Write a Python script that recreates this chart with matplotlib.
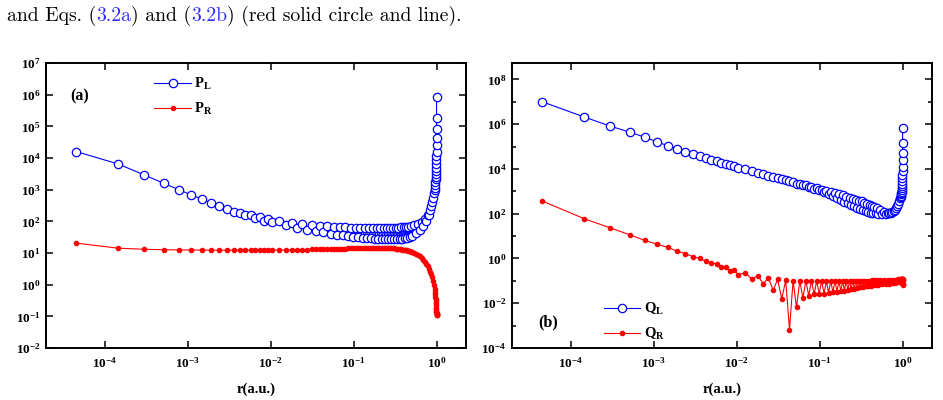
import matplotlib
matplotlib.use('Agg')
import matplotlib.pyplot as plt
import numpy as np
from matplotlib.ticker import FixedLocator, FuncFormatter, NullLocator, NullFormatter

plt.rcParams['font.family'] = 'Liberation Serif'
plt.rcParams['font.weight'] = 'bold'
plt.rcParams['mathtext.fontset'] = 'custom'
plt.rcParams['mathtext.rm'] = 'Liberation Serif:bold'
plt.rcParams['mathtext.bf'] = 'Liberation Serif:bold'
plt.rcParams['mathtext.it'] = 'Liberation Serif:bold'

# radial grid (a.u.), shared by all four curves
r_au = [4.5e-5, 1.44e-4, 3.0e-4, 5.1e-4, 7.8e-4, 1.10e-3, 1.48e-3, 1.92e-3, 2.41e-3, 2.96e-3,
        3.56e-3, 4.23e-3, 4.94e-3, 5.72e-3, 6.54e-3, 7.43e-3, 8.37e-3, 9.37e-3,
        0.0104, 0.0127, 0.0152, 0.0179, 0.0209, 0.0241, 0.0275, 0.0311, 0.0349, 0.0390,
        0.0433, 0.0478, 0.0526, 0.0576, 0.0628, 0.0682, 0.0738, 0.0797, 0.0858, 0.0921, 0.0987,
        0.1057, 0.1130, 0.1205, 0.1282, 0.1362, 0.1445, 0.1530, 0.1617, 0.1707, 0.1799,
        0.1893, 0.1990, 0.2089, 0.2191, 0.2295, 0.2402, 0.2511, 0.2622, 0.2736, 0.2853,
        0.2971, 0.3092, 0.3216, 0.3342, 0.3470, 0.3601, 0.3734, 0.3870, 0.4008, 0.4149,
        0.4292, 0.4437, 0.4585, 0.4735, 0.4887,
        0.51, 0.54, 0.57, 0.60, 0.63, 0.66, 0.69, 0.72, 0.75, 0.78,
        0.81, 0.84, 0.865, 0.89, 0.91, 0.93,
        0.945, 0.955, 0.963, 0.970, 0.976, 0.981, 0.985, 0.9885, 0.9915, 0.994,
        0.996, 0.9973, 0.9983, 0.999, 0.9995, 0.9998, 0.99995, 1.0]

P_L = [1.6e4, 6.5e3, 2.9e3, 1.6e3, 1.0e3, 680, 500, 370, 300, 240,
       200, 180, 160, 160, 130, 140, 105, 118,
       92, 100, 75, 88, 63, 80, 55, 76, 49, 72,
       45, 70, 41, 68, 38, 66, 36, 64, 34, 63, 32,
       62, 31, 61, 30, 60, 29.5, 60, 29, 60, 28.5,
       60, 28, 60, 27.5, 60, 27, 60, 27, 60, 27,
       61, 27, 62, 27, 63, 27.5, 64, 28, 65, 29,
       66, 30.5, 68, 32, 70,
       35, 74, 42, 82, 52, 95, 70, 120, 100, 155,
       160, 230, 300, 420, 560, 780,
       950, 1150, 1400, 1700, 2100, 2600, 3200, 4000, 5000, 6500,
       8500, 1.15e4, 1.6e4, 2.6e4, 4.2e4, 8.1e4, 1.9e5, 8.7e5]

P_R = [20.5, 14.2, 13.1, 12.7, 12.5, 12.4, 12.4, 12.3, 12.3, 12.3,
       12.3, 12.3, 12.3, 12.3, 12.3, 12.3, 12.3, 12.3,
       12.4, 12.4, 12.5, 12.5, 12.6, 12.7, 12.8, 12.9, 13.0, 13.1,
       13.2, 13.3, 13.4, 13.5, 13.6, 13.7, 13.8, 13.8, 13.9, 14.0, 14.0,
       14.1, 14.1, 14.2, 14.2, 14.3, 14.3, 14.3, 14.4, 14.4, 14.4,
       14.4, 14.4, 14.4, 14.4, 14.4, 14.3, 14.3, 14.2, 14.2, 14.1,
       14.0, 13.9, 13.8, 13.6, 13.4, 13.2, 13.0, 12.8, 12.6, 12.4,
       12.2, 12.0, 11.7, 11.4, 11.1,
       10.9, 10.2, 9.4, 8.6, 7.8, 7.0, 6.1, 5.3, 4.6, 3.9,
       3.2, 2.6, 2.1, 1.7, 1.35, 1.0,
       0.75, 0.6, 0.5, 0.42, 0.35, 0.3, 0.26, 0.22, 0.19, 0.17,
       0.15, 0.14, 0.13, 0.122, 0.116, 0.112, 0.11, 0.108]

Q_L = [1.0e7, 2.1e6, 8.1e5, 4.4e5, 2.6e5, 1.6e5, 1.07e5, 7.9e4, 5.8e4, 4.6e4,
       3.7e4, 3.1e4, 2.6e4, 2.2e4, 1.9e4, 1.65e4, 1.45e4, 1.28e4,
       1.15e4, 9.4e3, 7.9e3, 6.7e3, 5.7e3, 5.0e3, 4.4e3, 3.9e3, 3.4e3, 3.1e3,
       2.8e3, 2.5e3, 2.2e3, 2.2e3, 1.85e3, 1.9e3, 1.55e3, 1.62e3, 1.32e3, 1.4e3, 1.12e3,
       1200, 950, 1080, 780, 940, 630, 840, 520, 730, 420,
       650, 330, 580, 285, 520, 245, 465, 210, 420, 180,
       385, 160, 350, 145, 315, 130, 280, 120, 250, 112,
       225, 106, 200, 102, 180,
       100, 150, 98, 125, 100, 110, 105, 110, 118, 128,
       145, 175, 210, 280, 370, 500,
       560, 640, 720, 820, 950, 1100, 1350, 1700, 2200, 2900,
       3900, 5500, 8000, 1.2e4, 2.5e4, 5.3e4, 1.4e5, 6.5e5]

Q_R = [370, 60, 23, 11.5, 6.4, 4.3, 3.1, 2.1, 1.65, 1.2,
       1.0, 0.76, 0.62, 0.58, 0.42, 0.42, 0.28, 0.32,
       0.19, 0.23, 0.12, 0.17, 0.075, 0.135, 0.038, 0.115, 0.016, 0.105,
       6.5e-4, 0.10, 0.0065, 0.10, 0.017, 0.10, 0.022, 0.10, 0.025, 0.10, 0.026,
       0.10, 0.027, 0.10, 0.029, 0.10, 0.031, 0.10, 0.033, 0.10, 0.035,
       0.10, 0.037, 0.10, 0.039, 0.10, 0.042, 0.10, 0.045, 0.10, 0.048,
       0.10, 0.051, 0.10, 0.053, 0.10, 0.056, 0.102, 0.058, 0.103, 0.060,
       0.104, 0.062, 0.105, 0.064, 0.105,
       0.067, 0.106, 0.070, 0.108, 0.073, 0.11, 0.076, 0.11, 0.079, 0.112,
       0.082, 0.113, 0.085, 0.115, 0.087, 0.116,
       0.089, 0.117, 0.09, 0.118, 0.09, 0.12, 0.088, 0.12, 0.085, 0.12,
       0.08, 0.118, 0.075, 0.115, 0.07, 0.112, 0.065, 0.11]

x_ticks = [1e-4, 1e-3, 1e-2, 1e-1, 1e0]
y_ticks_a = [10.0 ** k for k in range(-2, 8)]
y_ticks_b = [10.0 ** k for k in range(-4, 9, 2)]
y_minor_b = [10.0 ** k for k in range(-3, 8, 2)]

blue = '#0000ff'
red = '#ff0000'


def pow_label(v, pos):
    return r'$\mathbf{10^{%d}}$' % int(round(np.log10(v)))


fig = plt.figure(figsize=(9.43, 4.0), dpi=100)
ax1 = fig.add_axes([46 / 943, 52 / 400, 420 / 943, 285 / 400])
ax2 = fig.add_axes([512 / 943, 52 / 400, 420 / 943, 285 / 400])


def style(ax):
    ax.set_xscale('log')
    ax.set_yscale('log')
    ax.set_xlim(10 ** -4.71, 10 ** 0.355)
    for s in ax.spines.values():
        s.set_linewidth(1.4)
    ax.tick_params(which='both', direction='in', top=True, right=True, width=1.1)
    ax.tick_params(which='major', length=5, labelsize=9.5)
    ax.tick_params(which='minor', length=3)
    ax.tick_params(axis='x', pad=6)
    ax.tick_params(axis='y', pad=4)
    ax.xaxis.set_major_locator(FixedLocator(x_ticks))
    ax.xaxis.set_minor_locator(NullLocator())
    ax.xaxis.set_major_formatter(FuncFormatter(pow_label))
    ax.xaxis.set_minor_formatter(NullFormatter())
    ax.yaxis.set_major_formatter(FuncFormatter(pow_label))
    ax.yaxis.set_minor_formatter(NullFormatter())
    ax.set_xlabel('r(a.u.)', fontsize=10.5, fontweight='bold', labelpad=8)


leg_kw = dict(loc='upper left', frameon=False, fontsize=10.5, handlelength=2.5,
              handletextpad=0.25, labelspacing=0.6, borderpad=0, borderaxespad=0,
              numpoints=1)

# (a)
style(ax1)
ax1.plot(r_au, P_L, '-o', color=blue, lw=0.8, ms=6, mfc='white', mew=0.9, label=r'$\mathbf{P_L}$')
ax1.plot(r_au, P_R, '-o', color=red, lw=0.8, ms=3, label=r'$\mathbf{P_R}$')
ax1.set_ylim(1e-2, 1e7)
ax1.yaxis.set_major_locator(FixedLocator(y_ticks_a))
ax1.yaxis.set_minor_locator(NullLocator())
ax1.text(0.079, 0.884, '(a)', transform=ax1.transAxes, fontsize=11.5, fontweight='bold',
         ha='center', va='center')
ax1.legend(bbox_to_anchor=(0.258, 0.955), **leg_kw)

# (b)
style(ax2)
ax2.plot(r_au, Q_L, '-o', color=blue, lw=0.8, ms=6, mfc='white', mew=0.9, label=r'$\mathbf{Q_L}$')
ax2.plot(r_au, Q_R, '-o', color=red, lw=0.8, ms=3, label=r'$\mathbf{Q_R}$')
ax2.set_ylim(1e-4, 10 ** 8.73)
ax2.yaxis.set_major_locator(FixedLocator(y_ticks_b))
ax2.yaxis.set_minor_locator(FixedLocator(y_minor_b))
ax2.text(0.086, 0.091, '(b)', transform=ax2.transAxes, fontsize=11.5, fontweight='bold',
         ha='center', va='center')
ax2.legend(bbox_to_anchor=(0.218, 0.165), **leg_kw)

# caption fragment above the figure
renderer = fig.canvas.get_renderer()
parts = [('and Eqs. (', 'black'), ('3.2a', '#2b2bff'), (') and (', 'black'),
         ('3.2b', '#2b2bff'), (') (red solid circle and line).', 'black')]
x = 7 / 943
for s, c in parts:
    t = fig.text(x, 1 - 21 / 400, s, color=c, fontsize=14.2, family='cmr10',
                 fontweight='normal', va='baseline', ha='left')
    bb = t.get_window_extent(renderer)
    x = bb.x1 / fig.bbox.width

fig.savefig('out.png', dpi=100)
